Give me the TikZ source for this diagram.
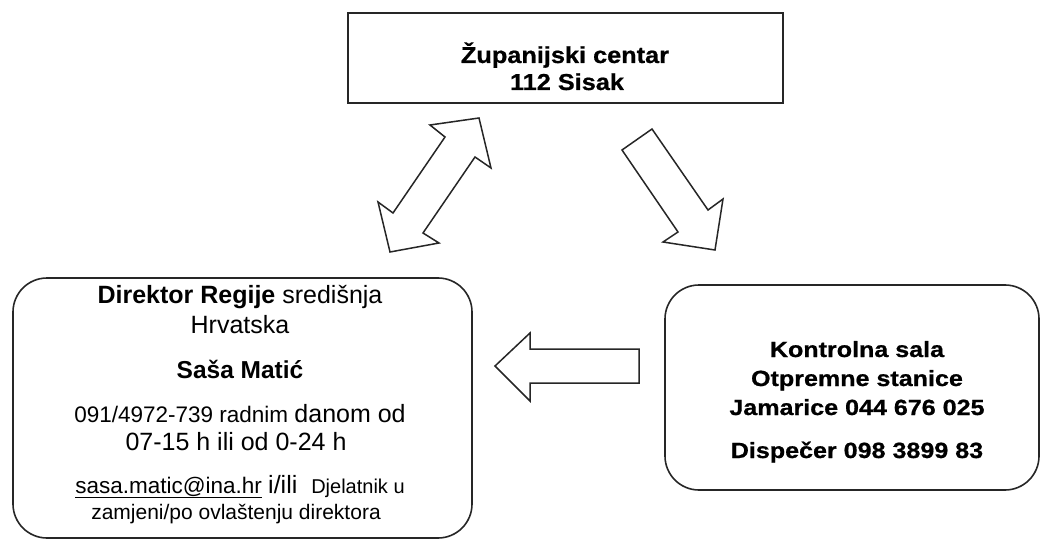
\documentclass[tikz,border=0pt]{standalone}
\usepackage{fontspec}
\setmainfont{Liberation Sans}
\newfontfamily\widetop[FakeStretch=1.1,FakeBold=0.8]{Liberation Sans}
\newfontfamily\wideright[FakeStretch=1.14,FakeBold=0.8]{Liberation Sans}
\begin{document}
\begin{tikzpicture}[x=1pt,y=-1pt,
  box/.style={draw=black!85,line width=1.6pt},
  fat/.style={draw=black!85,line width=1.5pt,line join=miter,fill=white},
  txt/.style={anchor=base,inner sep=0pt,font=\fontsize{25}{28}\selectfont}]
\useasboundingbox (0,0) rectangle (1041,540);
% boxes
\draw[box] (348,13) rectangle (783,103);
\draw[box,rounded corners=34pt] (13,278) rectangle (472,538);
\draw[box,rounded corners=34pt] (665,285) rectangle (1039,490);
% top box texts
\node[txt,font=\widetop\bfseries\fontsize{23}{27}\selectfont] (t1) at (565,63) {Županijski centar};
\node[txt,font=\widetop\bfseries\fontsize{23}{27}\selectfont] (t2) at (567,90) {112 Sisak};
% left box texts
\node[txt] (l1) at (240,303) {\textbf{Direktor Regije} središnja};
\node[txt] (l2) at (240,333) {Hrvatska};
\node[txt,font=\bfseries\fontsize{24.5}{28}\selectfont] (l3) at (240,378) {Saša Matić};
\node[txt] (l4) at (240,422) {\fontsize{22.5}{28}\selectfont 091/4972-739 radnim \fontsize{25}{28}\selectfont danom od};
\node[txt] (l5) at (236,450) {07-15 h ili od 0-24 h};
\node[txt] (l6) at (240,493) {\fontsize{22.5}{28}\selectfont\underline{sasa.matic@ina.hr} \fontsize{25}{28}\selectfont i/ili\ \ \fontsize{20}{28}\selectfont Djelatnik u};
\node[txt,font=\fontsize{21}{24}\selectfont] (l7) at (236,519) {zamjeni/po ovlaštenju direktora};
% right box texts
\node[txt,font=\wideright\bfseries\fontsize{22}{28}\selectfont] (r1) at (857,357) {Kontrolna sala};
\node[txt,font=\wideright\bfseries\fontsize{22}{28}\selectfont] (r2) at (857,386) {Otpremne stanice};
\node[txt,font=\wideright\bfseries\fontsize{22}{28}\selectfont] (r3) at (857,415) {Jamarice 044 676 025};
\node[txt,font=\wideright\bfseries\fontsize{22}{28}\selectfont] (r4) at (857,458) {Dispečer 098 3899 83};
% block arrows
\draw[fat] (479,118) -- (491,168) -- (475,157) -- (423,233) -- (439,243) -- (390,252)
  -- (378,202) -- (393,213) -- (445,137) -- (430,125) -- cycle;
\draw[fat] (622,150) -- (652,129) -- (708,210) -- (723,199) -- (715,250) -- (663,242)
  -- (678,232) -- cycle;
\draw[fat] (495,366) -- (530,333) -- (530,349) -- (639,349) -- (639,383) -- (530,383)
  -- (530,401) -- cycle;
\end{tikzpicture}
\end{document}
